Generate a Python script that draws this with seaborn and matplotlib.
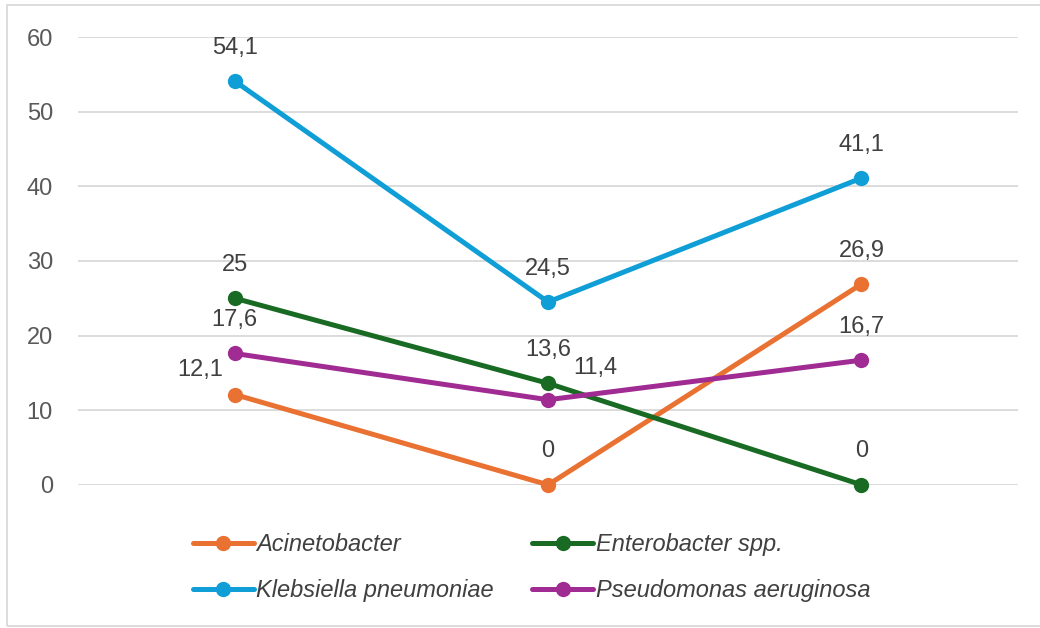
import matplotlib
matplotlib.use('Agg')
import matplotlib.pyplot as plt
from matplotlib.patches import Rectangle
import pandas as pd
import seaborn as sns

# data (3 unlabelled groups)
groups = [0, 1, 2]
organisms = ['Acinetobacter', 'Enterobacter spp.', 'Klebsiella pneumoniae', 'Pseudomonas aeruginosa']
acinetobacter = [12.1, 0, 26.9]
enterobacter = [25, 13.6, 0]
klebsiella = [54.1, 24.5, 41.1]
pseudomonas = [17.6, 11.4, 16.7]
colors = ['#E97132', '#196B24', '#0F9ED5', '#A02B93']

series = [acinetobacter, enterobacter, klebsiella, pseudomonas]
rows = []
for name, vals in zip(organisms, series):
    for g, v in zip(groups, vals):
        rows.append({'group': g, 'value': v, 'organism': name})
df = pd.DataFrame(rows)

sns.set_style('white')
plt.rcParams['font.family'] = ['Liberation Sans', 'DejaVu Sans']

fig = plt.figure(figsize=(10.4, 6.28), dpi=100)
ax = fig.add_axes([0.075, 0.228, 0.904, 0.713])

sns.lineplot(data=df, x='group', y='value', hue='organism', hue_order=organisms,
             palette=colors, marker='o', markersize=11, markeredgewidth=0,
             linewidth=3.6, ax=ax, legend=False)
for line in ax.lines:
    line.set_clip_on(False)

# data labels, mostly straight above the point
offsets = {(0, 0): (-25, 18), (3, 1): (34, 23)}
for i, vals in enumerate(series):
    for g, v in zip(groups, vals):
        dx, dy = offsets.get((i, g), (0, 24))
        ax.annotate(f'{v}'.replace('.', ','), (g, v), xytext=(dx, dy),
                    textcoords='offset points', ha='center', va='center',
                    fontsize=17, color='#404040')

ax.set_xlim(-0.5, 2.5)
ax.set_ylim(0, 60)
ax.set_yticks(range(0, 61, 10))
ax.set_xticks([])
ax.set_xlabel('')
ax.set_ylabel('')
ax.grid(axis='y', color='#D9D9D9', linewidth=1.3)
ax.set_axisbelow(True)
for s in ax.spines.values():
    s.set_visible(False)
ax.tick_params(axis='y', length=0, pad=18, labelsize=17, labelcolor='#595959')

# legend: two columns, Acinetobacter/Enterobacter on first row
handles = [plt.Line2D([], [], color=c, marker='o', markersize=11, linewidth=3.6,
                      markeredgewidth=0) for c in colors]
order = [0, 2, 1, 3]
fig.legend([handles[i] for i in order], [organisms[i] for i in order],
           ncol=2, loc='center', bbox_to_anchor=(0.511, 0.096), frameon=False,
           handlelength=2.6, handletextpad=0.1, columnspacing=1.6, labelspacing=0.95,
           prop={'family': ['Liberation Sans', 'DejaVu Sans'], 'style': 'italic', 'size': 17},
           labelcolor='#404040')

# light frame around the whole chart
fig.patches.append(Rectangle((7 / 1040, 2 / 628), 1.1, 621 / 628, transform=fig.transFigure,
                             fill=False, edgecolor='#D9D9D9', linewidth=1.3))

plt.savefig('out.png', dpi=100)
